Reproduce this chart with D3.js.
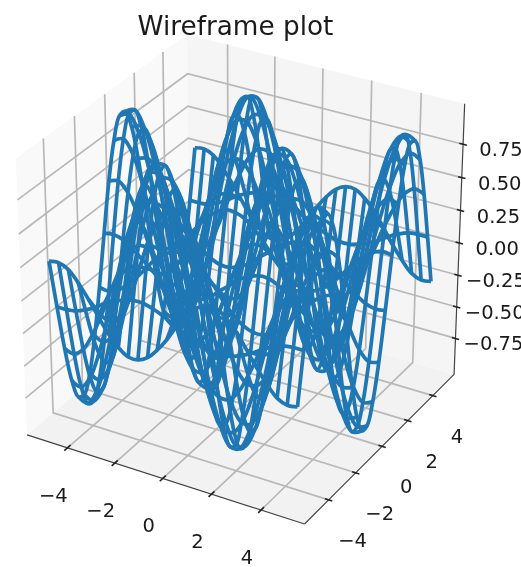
<!DOCTYPE html>
<html>
<head>
<meta charset="utf-8">
<script src="https://cdn.jsdelivr.net/npm/d3@7"></script>
<style>
  html, body { margin: 0; padding: 0; background: #fff; overflow: hidden; }
  svg { filter: blur(0.4px); }
  text { font-family: "DejaVu Sans", sans-serif; fill: #1a1a1a; }
</style>
</head>
<body>
<div id="chart"></div>
<script>
// wire positions along each axis
const xLines = [-5,-4.6,-4.2,-3.8,-3.4,-3,-2.6,-2.2,-1.8,-1.4,-1,-0.6,-0.2,0.2,0.6,1,1.4,1.8,2.2,2.6,3,3.4,3.8,4.2,4.6,5];
const yLines = [-5,-4.6,-4.2,-3.8,-3.4,-3,-2.6,-2.2,-1.8,-1.4,-1,-0.6,-0.2,0.2,0.6,1,1.4,1.8,2.2,2.6,3,3.4,3.8,4.2,4.6,5];

// height at every wire crossing, one row per yLines entry (estimated, the surface reads like sin x * cos y)
const zRows = [
  [.27,.28,.25,.17,.07,-.04,-.15,-.23,-.28,-.28,-.24,-.16,-.06,.06,.16,.24,.28,.28,.23,.15,.04,-.07,-.17,-.25,-.28,-.27],
  [-.11,-.11,-.10,-.07,-.03,.02,.06,.09,.11,.11,.09,.06,.02,-.02,-.06,-.09,-.11,-.11,-.09,-.06,-.02,.03,.07,.10,.11,.11],
  [-.47,-.49,-.43,-.30,-.13,.07,.25,.40,.48,.48,.41,.28,.10,-.10,-.28,-.41,-.48,-.48,-.40,-.25,-.07,.13,.30,.43,.49,.47],
  [-.76,-.79,-.69,-.48,-.20,.11,.41,.64,.77,.78,.67,.45,.16,-.16,-.45,-.67,-.78,-.77,-.64,-.41,-.11,.20,.48,.69,.79,.76],
  [-.93,-.96,-.84,-.59,-.25,.14,.50,.78,.94,.95,.81,.55,.19,-.19,-.55,-.81,-.95,-.94,-.78,-.50,-.14,.25,.59,.84,.96,.93],
  [-.95,-.98,-.86,-.61,-.25,.14,.51,.80,.96,.98,.83,.56,.20,-.20,-.56,-.83,-.98,-.96,-.80,-.51,-.14,.25,.61,.86,.98,.95],
  [-.82,-.85,-.75,-.52,-.22,.12,.44,.69,.83,.84,.72,.48,.17,-.17,-.48,-.72,-.84,-.83,-.69,-.44,-.12,.22,.52,.75,.85,.82],
  [-.56,-.59,-.51,-.36,-.15,.08,.30,.48,.57,.58,.50,.33,.12,-.12,-.33,-.50,-.58,-.57,-.48,-.30,-.08,.15,.36,.51,.59,.56],
  [-.22,-.23,-.20,-.14,-.06,.03,.12,.18,.22,.22,.19,.13,.05,-.05,-.13,-.19,-.22,-.22,-.18,-.12,-.03,.06,.14,.20,.23,.22],
  [.16,.17,.15,.10,.04,-.02,-.09,-.14,-.17,-.17,-.14,-.10,-.03,.03,.10,.14,.17,.17,.14,.09,.02,-.04,-.10,-.15,-.17,-.16],
  [.52,.54,.47,.33,.14,-.08,-.28,-.44,-.53,-.53,-.45,-.31,-.11,.11,.31,.45,.53,.53,.44,.28,.08,-.14,-.33,-.47,-.54,-.52],
  [.79,.82,.72,.50,.21,-.12,-.43,-.67,-.80,-.81,-.69,-.47,-.16,.16,.47,.69,.81,.80,.67,.43,.12,-.21,-.50,-.72,-.82,-.79],
  [.94,.97,.85,.60,.25,-.14,-.51,-.79,-.95,-.97,-.82,-.55,-.20,.20,.55,.82,.97,.95,.79,.51,.14,-.25,-.60,-.85,-.97,-.94],
  [.94,.97,.85,.60,.25,-.14,-.51,-.79,-.95,-.97,-.82,-.55,-.20,.20,.55,.82,.97,.95,.79,.51,.14,-.25,-.60,-.85,-.97,-.94],
  [.79,.82,.72,.50,.21,-.12,-.43,-.67,-.80,-.81,-.69,-.47,-.16,.16,.47,.69,.81,.80,.67,.43,.12,-.21,-.50,-.72,-.82,-.79],
  [.52,.54,.47,.33,.14,-.08,-.28,-.44,-.53,-.53,-.45,-.31,-.11,.11,.31,.45,.53,.53,.44,.28,.08,-.14,-.33,-.47,-.54,-.52],
  [.16,.17,.15,.10,.04,-.02,-.09,-.14,-.17,-.17,-.14,-.10,-.03,.03,.10,.14,.17,.17,.14,.09,.02,-.04,-.10,-.15,-.17,-.16],
  [-.22,-.23,-.20,-.14,-.06,.03,.12,.18,.22,.22,.19,.13,.05,-.05,-.13,-.19,-.22,-.22,-.18,-.12,-.03,.06,.14,.20,.23,.22],
  [-.56,-.59,-.51,-.36,-.15,.08,.30,.48,.57,.58,.50,.33,.12,-.12,-.33,-.50,-.58,-.57,-.48,-.30,-.08,.15,.36,.51,.59,.56],
  [-.82,-.85,-.75,-.52,-.22,.12,.44,.69,.83,.84,.72,.48,.17,-.17,-.48,-.72,-.84,-.83,-.69,-.44,-.12,.22,.52,.75,.85,.82],
  [-.95,-.98,-.86,-.61,-.25,.14,.51,.80,.96,.98,.83,.56,.20,-.20,-.56,-.83,-.98,-.96,-.80,-.51,-.14,.25,.61,.86,.98,.95],
  [-.93,-.96,-.84,-.59,-.25,.14,.50,.78,.94,.95,.81,.55,.19,-.19,-.55,-.81,-.95,-.94,-.78,-.50,-.14,.25,.59,.84,.96,.93],
  [-.76,-.79,-.69,-.48,-.20,.11,.41,.64,.77,.78,.67,.45,.16,-.16,-.45,-.67,-.78,-.77,-.64,-.41,-.11,.20,.48,.69,.79,.76],
  [-.47,-.49,-.43,-.30,-.13,.07,.25,.40,.48,.48,.41,.28,.10,-.10,-.28,-.41,-.48,-.48,-.40,-.25,-.07,.13,.30,.43,.49,.47],
  [-.11,-.11,-.10,-.07,-.03,.02,.06,.09,.11,.11,.09,.06,.02,-.02,-.06,-.09,-.11,-.11,-.09,-.06,-.02,.03,.07,.10,.11,.11],
  [.27,.28,.25,.17,.07,-.04,-.15,-.23,-.28,-.28,-.24,-.16,-.06,.06,.16,.24,.28,.28,.23,.15,.04,-.07,-.17,-.25,-.28,-.27]
];

const xTicks = [-4,-2,0,2,4];
const yTicks = [-4,-2,0,2,4];
const zTicks = [-0.75,-0.5,-0.25,0,0.25,0.5,0.75];

const xLim = [-5.73,5.73];
const yLim = [-5.73,5.73];
const zLim = [-1.04,1.05];

const width = 521;
const height = 567;

const svg = d3.select("#chart").append("svg")
  .attr("width", width)
  .attr("height", height);

// data -> unit cube centred on 0
const xWorld = d3.scaleLinear().domain(xLim).range([-0.5,0.5]);
const yWorld = d3.scaleLinear().domain(yLim).range([-0.5,0.5]);
const zWorld = d3.scaleLinear().domain(zLim).range([-0.5,0.5]);

// view plane -> pixels
const xPixel = d3.scaleLinear().domain([-0.0677,0.0656]).range([27,454]);
const yPixel = d3.scaleLinear().domain([-0.0802,0.0356]).range([524,158.5]);

// same camera as a default mplot3d axes: elev 30, azim -60, dist 10
function project(x, y, z){
  let cx = xWorld(x), cy = yWorld(y), cz = zWorld(z);
  let xv = 0.866*cx + 0.5*cy;
  let yv = -0.25*cx + 0.433*cy + 0.866*cz;
  let depth = 10 - (0.433*cx - 0.75*cy + 0.5*cz);
  return [xPixel(xv/depth), yPixel(yv/depth)];
}

const straight = d3.line();
const smooth = d3.line().curve(d3.curveCatmullRom);

// panes
const [x0,x1] = xLim, [y0,y1] = yLim, [z0,z1] = zLim;
const panes = [
  {fill:"#f9f9f9", corners:[[x0,y0,z0],[x0,y1,z0],[x0,y1,z1],[x0,y0,z1]]},
  {fill:"#f5f5f5", corners:[[x0,y1,z0],[x1,y1,z0],[x1,y1,z1],[x0,y1,z1]]},
  {fill:"#f2f2f2", corners:[[x0,y0,z0],[x1,y0,z0],[x1,y1,z0],[x0,y1,z0]]}
];
svg.selectAll("polygon.pane").data(panes).enter().append("polygon")
  .attr("class","pane")
  .attr("fill", d => d.fill)
  .attr("points", d => d.corners.map(c => project(c[0],c[1],c[2]).join(",")).join(" "));

// grid lines on the panes
let gridLines = [];
xTicks.forEach(t => gridLines.push([[t,y0,z0],[t,y1,z0],[t,y1,z1]]));
yTicks.forEach(t => gridLines.push([[x0,t,z1],[x0,t,z0],[x1,t,z0]]));
zTicks.forEach(t => gridLines.push([[x0,y0,t],[x0,y1,t],[x1,y1,t]]));
svg.selectAll("path.grid").data(gridLines).enter().append("path")
  .attr("class","grid")
  .attr("fill","none")
  .attr("stroke","#b8b8b8")
  .attr("stroke-width",1.7)
  .attr("d", d => straight(d.map(c => project(c[0],c[1],c[2]))));

// axis lines
const axisLines = [
  [[x0,y0,z0],[x1,y0,z0]],
  [[x1,y0,z0],[x1,y1,z0]],
  [[x1,y1,z0],[x1,y1,z1]]
];
svg.selectAll("path.axis").data(axisLines).enter().append("path")
  .attr("class","axis")
  .attr("fill","none")
  .attr("stroke","#444")
  .attr("stroke-width",1.2)
  .attr("d", d => straight(d.map(c => project(c[0],c[1],c[2]))));

// tick marks
const tickSegs = [];
const yStep = (y1-y0)*0.018, xStep = (x1-x0)*0.013;
xTicks.forEach(t => tickSegs.push([[t,y0-yStep,z0],[t,y0+yStep,z0]]));
yTicks.forEach(t => tickSegs.push([[x1-xStep,t,z0],[x1+xStep,t,z0]]));
zTicks.forEach(t => tickSegs.push([[x1-xStep,y1,t],[x1+xStep,y1,t]]));
svg.selectAll("path.tick").data(tickSegs).enter().append("path")
  .attr("class","tick")
  .attr("stroke","#222")
  .attr("stroke-width",1.6)
  .attr("d", d => straight(d.map(c => project(c[0],c[1],c[2]))));

// tick labels
const fmtZ = d3.format(".2f");
const minus = s => String(s).replace("-","\u2212");
function tickLabels(cls, data, pos, label){
  svg.selectAll("text."+cls).data(data).enter().append("text")
    .attr("class",cls)
    .attr("x", d => pos(d)[0])
    .attr("y", d => pos(d)[1])
    .attr("text-anchor","middle")
    .attr("font-size",19.5)
    .text(label);
}
tickLabels("xl", xTicks, d => { let p = project(d,y0,z0); return [p[0]-14, p[1]+54]; }, minus);
tickLabels("yl", yTicks, d => { let p = project(x1,d,z0); return [p[0]+24, p[1]+47]; }, minus);
tickLabels("zl", zTicks, d => { let p = project(x1,y1,d); return [p[0]+38, p[1]+12]; }, d => minus(fmtZ(d)));

// the wireframe
const wires = [];
xLines.forEach((x,i) => wires.push(yLines.map((y,j) => project(x,y,zRows[j][i]))));
yLines.forEach((y,j) => wires.push(xLines.map((x,i) => project(x,y,zRows[j][i]))));
svg.selectAll("path.wire").data(wires).enter().append("path")
  .attr("class","wire")
  .attr("fill","none")
  .attr("stroke","#1f77b4")
  .attr("stroke-width",3.7)
  .attr("stroke-linejoin","round")
  .attr("d", smooth);

// title
svg.append("text")
  .attr("x",235.5)
  .attr("y",35)
  .attr("text-anchor","middle")
  .attr("font-size",26.3)
  .text("Wireframe plot");
</script>
</body>
</html>
